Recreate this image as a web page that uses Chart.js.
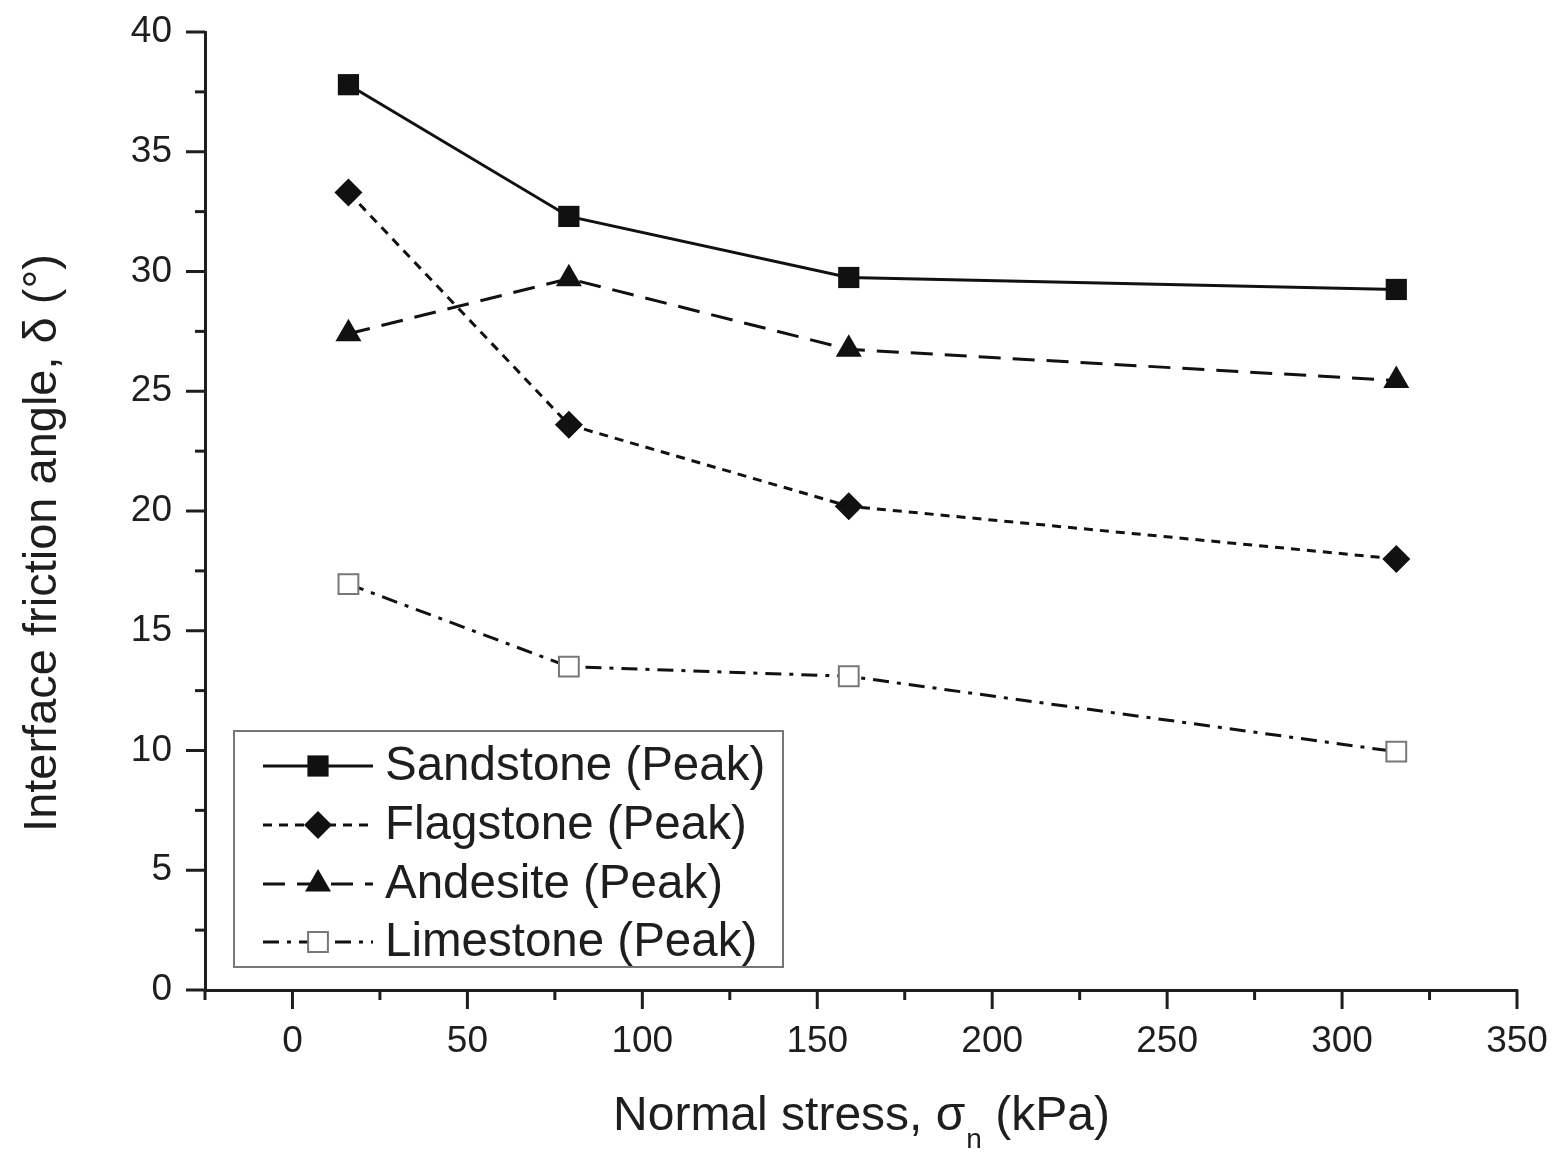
<!DOCTYPE html>
<html>
<head>
<meta charset="utf-8">
<script src="https://cdn.jsdelivr.net/npm/chart.js@4.4.1/dist/chart.umd.min.js"></script>
<style>
  html, body { margin: 0; padding: 0; background: #ffffff; }
  canvas { display: block; }
</style>
</head>
<body>
<canvas id="chart" width="1555" height="1157"></canvas>
<script>
// Normal stress levels (kPa) and peak interface friction angles (degrees)
const normalStress = [16, 79, 159, 315.5];
const sandstone = [37.8, 32.3, 29.75, 29.25];
const flagstone = [33.3, 23.6, 20.2, 18.0];
const andesite = [27.4, 29.7, 26.75, 25.45];
const limestone = [16.95, 13.5, 13.1, 9.95];
const seriesNames = ['Sandstone (Peak)', 'Flagstone (Peak)', 'Andesite (Peak)', 'Limestone (Peak)'];

// Axis ticks
const xMajorTicks = [0, 50, 100, 150, 200, 250, 300, 350];
const xMinorTicks = [-25, 25, 75, 125, 175, 225, 275, 325];
const yMajorTicks = [0, 5, 10, 15, 20, 25, 30, 35, 40];
const yMinorTicks = [2.5, 7.5, 12.5, 17.5, 22.5, 27.5, 32.5, 37.5];

const xTitle = ['Normal stress, \u03C3', 'n', ' (kPa)'];
const yTitle = 'Interface friction angle, \u03B4 (\u00B0)';

const FONT = '"Liberation Sans", Arial, Helvetica, sans-serif';
const INK = '#1e1e1e';

function pts(ys) {
  return normalStress.map((x, i) => ({ x: x, y: ys[i] }));
}

// Marker drawing for the legend samples
function drawMarker(ctx, style, x, y, r, fill, stroke, bw) {
  ctx.save();
  ctx.setLineDash([]);
  ctx.beginPath();
  if (style === 'rect') {
    const s = Math.SQRT1_2 * r;
    ctx.rect(x - s, y - s, 2 * s, 2 * s);
  } else if (style === 'rectRot') {
    ctx.moveTo(x, y - r); ctx.lineTo(x + r, y); ctx.lineTo(x, y + r); ctx.lineTo(x - r, y); ctx.closePath();
  } else if (style === 'triangle') {
    const a = 2 * Math.PI / 3;
    ctx.moveTo(x, y - r);
    ctx.lineTo(x + Math.sin(a) * r, y - Math.cos(a) * r);
    ctx.lineTo(x + Math.sin(2 * a) * r, y - Math.cos(2 * a) * r);
    ctx.closePath();
  }
  ctx.fillStyle = fill;
  ctx.fill();
  if (bw > 0) { ctx.lineWidth = bw; ctx.strokeStyle = stroke; ctx.stroke(); }
  ctx.restore();
}

const decorPlugin = {
  id: 'decor',
  afterDraw(chart) {
    const ctx = chart.ctx;
    const xs = chart.scales.x, ys = chart.scales.y;
    const area = chart.chartArea;
    ctx.save();
    // outward tick marks
    ctx.strokeStyle = INK;
    ctx.lineWidth = 3;
    ctx.setLineDash([]);
    const tick = (x1, y1, x2, y2) => { ctx.beginPath(); ctx.moveTo(x1, y1); ctx.lineTo(x2, y2); ctx.stroke(); };
    xMajorTicks.forEach(v => { const p = xs.getPixelForValue(v); tick(p, area.bottom, p, area.bottom + 19); });
    xMinorTicks.forEach(v => { const p = xs.getPixelForValue(v); tick(p, area.bottom, p, area.bottom + 10); });
    yMajorTicks.forEach(v => { const p = ys.getPixelForValue(v); tick(area.left, p, area.left - 19, p); });
    yMinorTicks.forEach(v => { const p = ys.getPixelForValue(v); tick(area.left, p, area.left - 10, p); });

    // axis titles
    ctx.fillStyle = INK;
    ctx.textBaseline = 'alphabetic';
    const big = '48px ' + FONT, small = '28px ' + FONT;
    ctx.font = big; const w1 = ctx.measureText(xTitle[0]).width; const w3 = ctx.measureText(xTitle[2]).width;
    ctx.font = small; const w2 = ctx.measureText(xTitle[1]).width;
    const total = w1 + w2 + w3;
    let tx = (area.left + area.right) / 2 - total / 2;
    const base = 1130;
    ctx.textAlign = 'left';
    ctx.font = big; ctx.fillText(xTitle[0], tx, base); tx += w1 + 1;
    ctx.font = small; ctx.fillText(xTitle[1], tx, base + 18); tx += w2;
    ctx.font = big; ctx.fillText(xTitle[2], tx, base);

    ctx.save();
    ctx.translate(56, 543);
    ctx.rotate(-Math.PI / 2);
    ctx.textAlign = 'center';
    ctx.font = '47px ' + FONT;
    ctx.fillText(yTitle, 0, 0);
    ctx.restore();

    // legend box
    ctx.lineWidth = 2;
    ctx.strokeStyle = '#777777';
    ctx.strokeRect(234, 731, 549, 236);
    const rows = [766, 825, 884, 942];
    chart.data.datasets.forEach((ds, i) => {
      const y = rows[i];
      ctx.save();
      ctx.strokeStyle = ds.borderColor;
      ctx.lineWidth = ds.borderWidth;
      ctx.setLineDash(ds.borderDash || []);
      ctx.beginPath(); ctx.moveTo(263, y); ctx.lineTo(373, y); ctx.stroke();
      ctx.restore();
      drawMarker(ctx, ds.pointStyle, 318, y, ds.pointRadius, ds.pointBackgroundColor, ds.pointBorderColor, ds.pointBorderWidth);
      ctx.fillStyle = INK;
      ctx.font = '47.5px ' + FONT;
      ctx.textAlign = 'left';
      ctx.textBaseline = 'middle';
      ctx.fillText(ds.label, 385, y + 1);
    });
    ctx.restore();
  }
};

const common = { showLine: true, borderColor: '#111111', borderWidth: 3, pointBorderColor: '#111111', pointBackgroundColor: '#111111', pointBorderWidth: 0, tension: 0 };

// Fixed scale boxes: no extra label overflow padding
function fixX(s) { s.height = 167; s.paddingLeft = 0; s.paddingRight = 0; }
function fixY(s) { s.width = 205; s.paddingTop = 0; s.paddingBottom = 0; }

new Chart(document.getElementById('chart'), {
  type: 'scatter',
  data: {
    datasets: [
      Object.assign({}, common, { label: seriesNames[0], data: pts(sandstone), pointStyle: 'rect', pointRadius: 15, borderDash: [] }),
      Object.assign({}, common, { label: seriesNames[1], data: pts(flagstone), pointStyle: 'rectRot', pointRadius: 14, borderDash: [9, 7] }),
      Object.assign({}, common, { label: seriesNames[2], data: pts(andesite), pointStyle: 'triangle', pointRadius: 15, borderDash: [22, 12] }),
      Object.assign({}, common, { label: seriesNames[3], data: pts(limestone), pointStyle: 'rect', pointRadius: 14, borderDash: [16, 8, 4, 8], pointBackgroundColor: '#ffffff', pointBorderColor: '#777777', pointBorderWidth: 2 })
    ]
  },
  options: {
    responsive: false,
    animation: false,
    devicePixelRatio: 1,
    layout: { padding: { left: 0, right: 38, top: 32, bottom: 0 } },
    plugins: { legend: { display: false }, tooltip: { enabled: false } },
    scales: {
      x: {
        type: 'linear', min: -25, max: 350,
        afterBuildTicks: s => { s.ticks = xMajorTicks.map(v => ({ value: v })); },
        afterFit: fixX,
        grid: { display: true, drawOnChartArea: false, drawTicks: false },
        border: { display: true, color: INK, width: 3 },
        ticks: { color: INK, font: { family: FONT, size: 37 }, padding: 30, maxRotation: 0, autoSkip: false }
      },
      y: {
        type: 'linear', min: 0, max: 40,
        afterBuildTicks: s => { s.ticks = yMajorTicks.map(v => ({ value: v })); },
        afterFit: fixY,
        grid: { display: true, drawOnChartArea: false, drawTicks: false },
        border: { display: true, color: INK, width: 3 },
        ticks: { color: INK, font: { family: FONT, size: 37 }, padding: 33, autoSkip: false }
      }
    }
  },
  plugins: [decorPlugin]
});
</script>
</body>
</html>
